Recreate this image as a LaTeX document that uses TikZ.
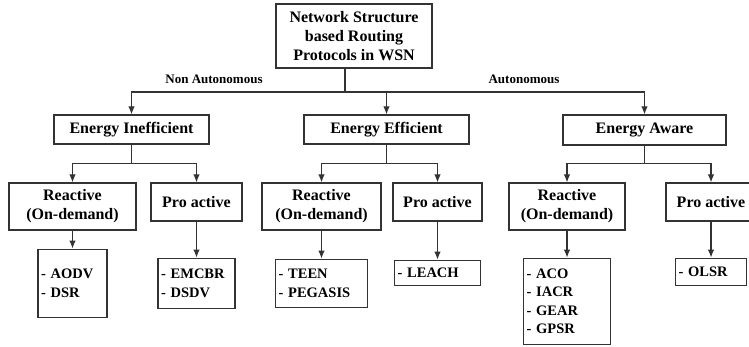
\documentclass[tikz,border=0pt]{standalone}
\usepackage{fontspec}
\setmainfont{Liberation Serif}
\usetikzlibrary{positioning, arrows.meta}
\tikzset{
>={Latex[length=8pt, width=6.5pt]}, % filled arrow heads
box/.style={draw=black!80, line width=1.2pt, align=center, inner sep=2pt, font=\bfseries\fontsize{16}{19}\selectfont}, % the class boxes
leaf/.style={draw=black!80, line width=1.2pt, align=left, inner xsep=3pt, inner ysep=0pt, font=\bfseries\fontsize{14.5}{18.5}\selectfont}, % the protocol lists
wire/.style={draw=black!80, line width=1.2pt}, % the connectors
branch/.style={font=\bfseries\fontsize{13}{15}\selectfont}, % labels on the top branches
}

\begin{document}
\begin{tikzpicture}[x=1pt, y=-1pt]
    \useasboundingbox (0,0) rectangle (749,347);
    % root and first level
    \node[box, minimum width=156pt, minimum height=64pt] (root) at (354,36) {Network Structure\\based Routing\\Protocols in WSN};
    \node[box, minimum width=155pt, minimum height=29pt] (ei) at (131.5,129.5) {Energy Inefficient};
    \node[box, minimum width=165pt, minimum height=29pt] (ee) at (386.5,129.5) {Energy Efficient};
    \node[box, minimum width=163pt, minimum height=30pt] (ea) at (644.5,130) {Energy Aware};
    \node[branch] (nonauto) at (214,79) {Non Autonomous};
    \node[branch] (auto) at (524,79) {Autonomous};
    % second level
    \node[box, minimum width=127pt, minimum height=47pt] (r1) at (72.5,206.5) {Reactive\\(On-demand)};
    \node[box, minimum width=91pt, minimum height=38pt] (p1) at (196.5,202) {Pro active};
    \node[box, minimum width=119pt, minimum height=47pt] (r2) at (321.5,206.5) {Reactive\\(On-demand)};
    \node[box, minimum width=89pt, minimum height=38pt] (p2) at (437.5,202) {Pro active};
    \node[box, minimum width=116pt, minimum height=47pt] (r3) at (567,206.5) {Reactive\\(On-demand)};
    \node[box, minimum width=90pt, minimum height=38pt] (p3) at (711,202) {Pro active};
    % protocol lists
    \node[leaf, text width=63pt, minimum height=68pt, below=18pt of r1] (l1) {- AODV\\- DSR};
    \node[leaf, text width=71pt, minimum height=50pt, below=36pt of p1] (l2) {- EMCBR\\- DSDV};
    \node[leaf, text width=86pt, minimum height=48pt, below=28pt of r2] (l3) {- TEEN\\- PEGASIS};
    \node[leaf, text width=80pt, minimum height=25pt, below=38pt of p2] (l4) {- LEACH};
    \node[leaf, text width=81pt, minimum height=86pt, below=27pt of r3] (l5) {- ACO\\- IACR\\- GEAR\\- GPSR};
    \node[leaf, text width=65pt, minimum height=27pt, below=36pt of p3] (l6) {- OLSR};

    \coordinate (split) at (345,92);
    \draw[wire] (root.south -| split) -- (split);
    \draw[wire, ->] (split) -| (ei);
    \draw[wire, ->] (split) -| (ee);
    \draw[wire, ->] (split) -| (ea);
    \draw[wire, ->] (ei.south) -- ++(0,19) -| (r1);
    \draw[wire, ->] (ei.south) -- ++(0,19) -| (p1);
    \draw[wire, ->] (ee.south) -- ++(0,19) -| (r2);
    \draw[wire, ->] (ee.south) -- ++(0,19) -| (p2);
    \draw[wire, ->] (ea.south) -- ++(0,18) -| (r3);
    \draw[wire, ->] (ea.south) -- ++(0,18) -| (p3);
    \draw[wire, ->] (r1) -- (l1);
    \draw[wire, ->] (p1) -- (l2);
    \draw[wire, ->] (r2) -- (l3);
    \draw[wire, ->] (p2) -- (l4);
    \draw[wire, ->] (r3) -- (l5);
    \draw[wire, ->] (p3) -- (l6);
\end{tikzpicture}
\end{document}
